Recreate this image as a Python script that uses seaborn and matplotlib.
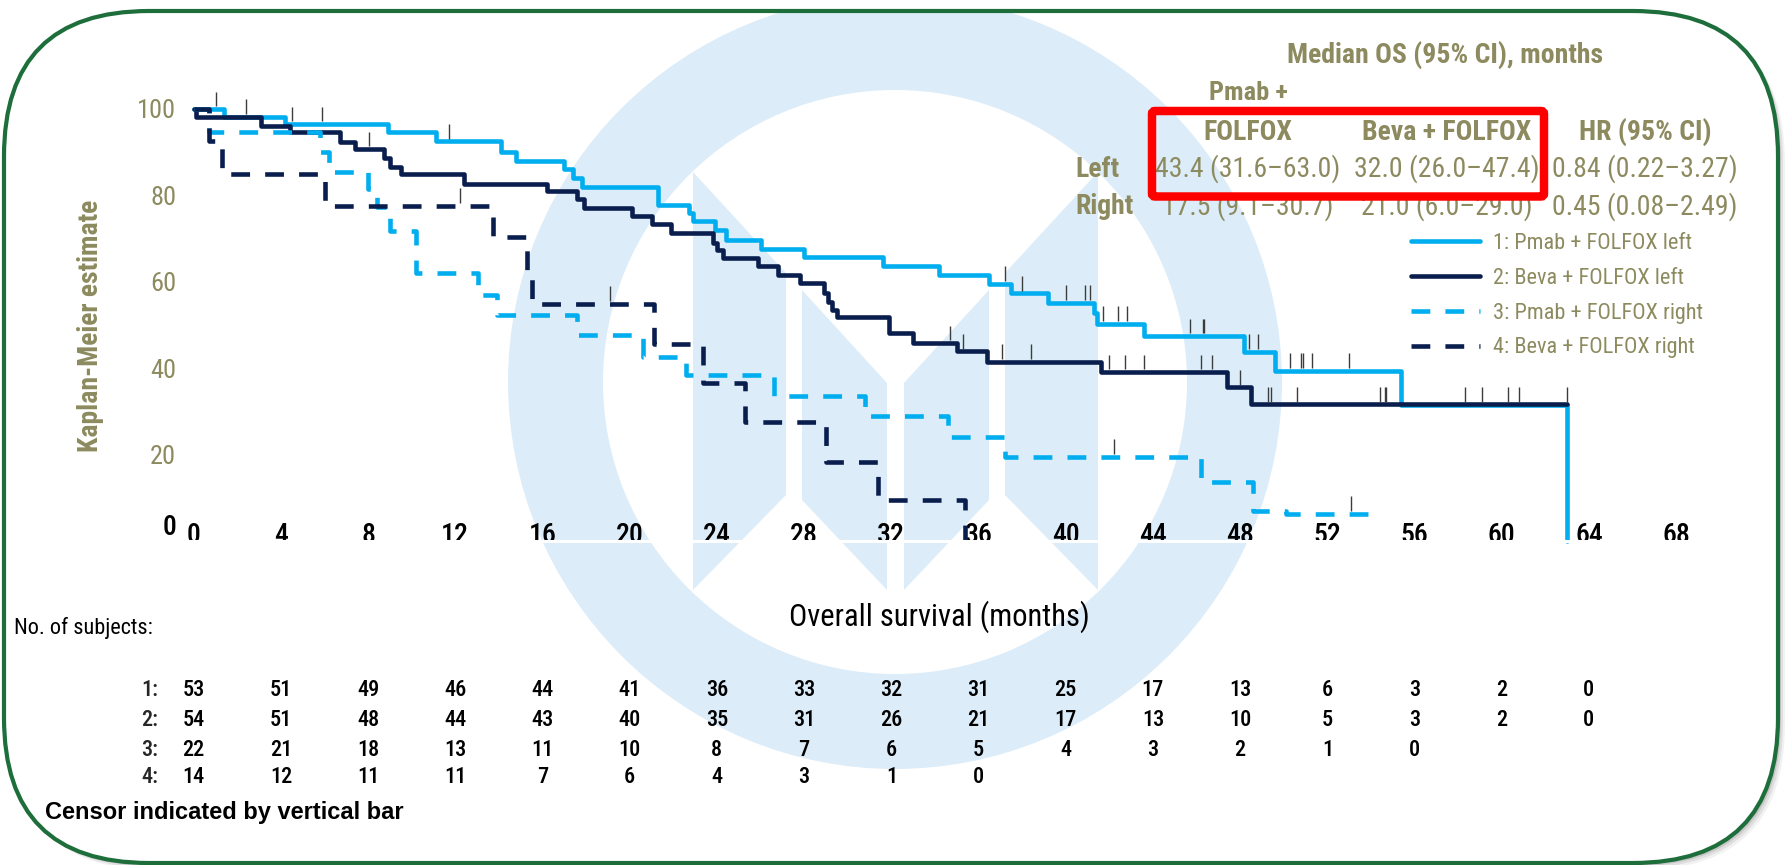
import numpy as np
import pandas as pd
import matplotlib
matplotlib.use("Agg")
import matplotlib.pyplot as plt
import seaborn as sns
from matplotlib import font_manager
from matplotlib.patches import FancyBboxPatch, Circle, Polygon
from matplotlib.transforms import IdentityTransform, blended_transform_factory

# =========================================
# DADOS
# =========================================

# 1: Pmab + FOLFOX left
pf_left_t = [0, 1.4, 4.2, 8.9, 11.1, 14.1, 14.8, 17.0, 17.4, 17.8, 21.3, 22.7, 22.9,
             23.9, 24.4, 26.0, 28.0, 31.6, 34.2, 36.5, 37.5, 39.2, 41.3, 41.45, 43.6,
             48.2, 49.6, 55.4, 63.0]
pf_left_s = [100, 98.2, 96.5, 94.6, 92.5, 90.1, 88.0, 86.1, 84.0, 81.9, 77.8, 75.8, 74.0,
             71.9, 69.6, 67.5, 65.6, 63.5, 61.5, 59.5, 57.3, 55.1, 52.7, 50.3, 47.4,
             43.8, 39.4, 31.4, 0]
pf_left_c = [1.0, 2.4, 4.5, 5.9, 11.7, 37.2, 38.0, 40.0, 40.9, 41.1, 41.7, 42.4, 42.8,
             45.7, 46.3, 46.35, 48.4, 48.8, 50.3, 50.8, 50.9, 51.3, 53.0]

# 2: Beva + FOLFOX left
bf_left_t = [0, 0.1, 3.1, 4.4, 6.7, 7.4, 8.75, 9.0, 9.5, 12.4, 16.2, 17.6, 17.9, 20.1,
             21.0, 21.9, 23.8, 24.0, 24.3, 25.9, 26.8, 27.8, 28.9, 29.1, 29.3, 29.5,
             31.9, 33.0, 35.0, 36.4, 41.6, 47.4, 48.5, 63.0]
bf_left_s = [100, 98.2, 96.0, 94.6, 92.4, 90.7, 88.6, 86.5, 84.8, 82.7, 81.0, 79.1, 77.1,
             75.2, 73.4, 71.2, 69.0, 67.3, 65.4, 63.5, 61.6, 59.6, 57.4, 55.3, 53.5, 51.7,
             48.0, 45.8, 43.9, 41.5, 39.1, 35.5, 31.6, 31.6]
bf_left_c = [8.05, 34.7, 35.3, 37.1, 38.4, 42.0, 42.7, 43.6, 46.2, 46.7, 48.0, 49.3, 49.4,
             50.6, 54.4, 54.65, 54.7, 58.3, 59.1, 60.3, 60.8, 63.0]

# 3: Pmab + FOLFOX right
pf_right_t = [0, 0.7, 5.8, 6.2, 8.0, 8.4, 9.0, 10.2, 13.05, 13.9, 17.6, 20.6, 22.6, 26.6,
              30.8, 34.6, 37.2, 46.2, 48.6, 50.1, 53.9]
pf_right_s = [100, 94.6, 89.9, 85.4, 81.5, 77.3, 71.6, 62.0, 57.0, 52.3, 47.6, 42.6, 38.4,
              33.6, 28.8, 24.1, 19.5, 13.5, 6.8, 6.3, 6.3]
pf_right_c = [42.2, 53.1]

# 4: Beva + FOLFOX right
bf_right_t = [0, 0.7, 1.3, 6.0, 13.75, 15.3, 15.5, 21.1, 23.35, 25.3, 29.0, 31.4, 35.4]
bf_right_s = [100, 92.5, 84.8, 77.6, 70.3, 62.6, 54.9, 45.6, 36.5, 27.6, 18.3, 9.4, 0]
bf_right_c = [12.2, 19.1]

x_ticks = [0, 4, 8, 12, 16, 20, 24, 28, 32, 36, 40, 44, 48, 52, 56, 60, 64, 68]
y_ticks = [0, 20, 40, 60, 80, 100]

# numero de sujeitos em risco
risco_1 = [53, 51, 49, 46, 44, 41, 36, 33, 32, 31, 25, 17, 13, 6, 3, 2, 0]
risco_2 = [54, 51, 48, 44, 43, 40, 35, 31, 26, 21, 17, 13, 10, 5, 3, 2, 0]
risco_3 = [22, 21, 18, 13, 11, 10, 8, 7, 6, 5, 4, 3, 2, 1, 0]
risco_4 = [14, 12, 11, 11, 7, 6, 4, 3, 1, 0]

legendas = ["1: Pmab + FOLFOX left", "2: Beva + FOLFOX left",
            "3: Pmab + FOLFOX right", "4: Beva + FOLFOX right"]

# tabela de mediana
col_header = ["FOLFOX", "Beva + FOLFOX", "HR (95% CI)"]
linha_left = ["43.4 (31.6\u201363.0)", "32.0 (26.0\u201347.4)", "0.84 (0.22\u20133.27)"]
linha_right = ["17.5 (9.1\u201330.7)", "21.0 (6.0\u201329.0)", "0.45 (0.08\u20132.49)"]

# =========================================
# ESTILO
# =========================================

sns.set_style("white")

nomes = {f.name for f in font_manager.fontManager.ttflist}
NARROW = "DejaVu Sans"
for cand in ["Liberation Sans Narrow", "Roboto Condensed", "Roboto"]:
    if cand in nomes:
        NARROW = cand
        break
WIDE = "Liberation Sans" if "Liberation Sans" in nomes else "DejaVu Sans"
plt.rcParams["font.family"] = [NARROW, "DejaVu Sans"]

AZUL = "#00AEEF"
NAVY = "#0A1E4E"
OLIVA = "#8C8A5E"
MARCA = "#DCEDF9"
VERDE = "#1E6E3C"

W, H = 1787, 865
fig = plt.figure(figsize=(W / 100, H / 100), dpi=100)
fig.patch.set_facecolor("white")


def fx(x):
    return x / W


def fy(y):
    return 1 - y / H


# =========================================
# MOLDURA + MARCA D'AGUA
# =========================================

for k, a in [(7, 0.10), (5, 0.16), (3, 0.25)]:
    sombra = FancyBboxPatch((4 + k, 2 - k), 1774, 852,
                            boxstyle="round,pad=0,rounding_size=145",
                            transform=IdentityTransform(), facecolor="#808080",
                            edgecolor="none", alpha=a, zorder=-20)
    fig.patches.append(sombra)

moldura = FancyBboxPatch((4, 2), 1774, 852, boxstyle="round,pad=0,rounding_size=145",
                         transform=IdentityTransform(), facecolor="white",
                         edgecolor="none", zorder=-15)
fig.patches.append(moldura)

cx, cy = 895, H - 382
marca = [Circle((cx, cy), 387, facecolor=MARCA, edgecolor="none"),
         Circle((cx, cy), 292, facecolor="white", edgecolor="none")]
pecas = [
    [(693, 172), (786, 273), (786, 495), (693, 590)],
    [(802, 290), (887, 383), (887, 590), (802, 500)],
    [(904, 383), (989, 290), (989, 500), (904, 590)],
    [(1005, 273), (1098, 172), (1098, 590), (1005, 495)],
]
for p in pecas:
    marca.append(Polygon([(x, H - y) for x, y in p], closed=True,
                         facecolor=MARCA, edgecolor="none"))
for i, m in enumerate(marca):
    m.set_transform(IdentityTransform())
    m.set_zorder(-14 + i * 0.01)
    m.set_clip_path(moldura)
    fig.patches.append(m)

borda = FancyBboxPatch((4, 2), 1774, 852, boxstyle="round,pad=0,rounding_size=145",
                       transform=IdentityTransform(), facecolor="none",
                       edgecolor=VERDE, linewidth=3.0, zorder=5)
fig.patches.append(borda)

# =========================================
# CURVAS KAPLAN-MEIER
# =========================================

ax = fig.add_axes([0.09620, 0.36728, 0.85395, 0.53191])
ax.set_facecolor("none")

tracejado = (0, (4.1, 3.3))
curvas = [
    (pf_left_t, pf_left_s, pf_left_c, AZUL, "-"),
    (bf_left_t, bf_left_s, bf_left_c, NAVY, "-"),
    (pf_right_t, pf_right_s, pf_right_c, AZUL, tracejado),
    (bf_right_t, bf_right_s, bf_right_c, NAVY, tracejado),
]

for (t, s, c, cor, estilo), nome in zip(curvas, legendas):
    df = pd.DataFrame({"mes": t, "sobrevida": s})
    sns.lineplot(data=df, x="mes", y="sobrevida", ax=ax, estimator=None, sort=False,
                 color=cor, linestyle=estilo, linewidth=3.3, drawstyle="steps-post",
                 label=nome, clip_on=False)
    # censuras
    idx = np.searchsorted(t, c, side="right") - 1
    nivel = np.array(s)[idx]
    ax.vlines(c, nivel + 0.6, nivel + 4.0, color="#3c3c3c", linewidth=1.0, zorder=3)

ax.set_xlim(-1, 69)
ax.set_ylim(-1.5, 105)
ax.set_xlabel("")
ax.set_ylabel("")

for lado in ["top", "right", "left"]:
    ax.spines[lado].set_visible(False)
ax.spines["bottom"].set_position(("data", 0))
ax.spines["bottom"].set_color("white")
ax.spines["bottom"].set_linewidth(2.2)

ax.set_xticks(x_ticks)
ax.set_xticklabels([str(v) for v in x_ticks], fontweight="medium")
ax.tick_params(axis="x", direction="out", length=9.4, width=1.6, color="white",
               pad=-22.9, labelsize=20, labelcolor="black")

ax.set_yticks(y_ticks)
ax.set_yticklabels([str(v) for v in y_ticks])
ax.tick_params(axis="y", length=0, pad=-3, labelsize=19, labelcolor=OLIVA)
zero = ax.get_yticklabels()[0]
zero.set_color("black")
zero.set_fontsize(20)
zero.set_fontweight("medium")
zero.set_va("bottom")

# legenda
ax.legend(loc="upper left", bbox_to_anchor=(fx(1411), fy(233)), bbox_transform=fig.transFigure,
          frameon=False, fontsize=16, handlelength=3.1, handletextpad=0.6,
          labelspacing=0.62, borderpad=0, borderaxespad=0, labelcolor=OLIVA)

# =========================================
# TEXTOS
# =========================================

fig.text(fx(91), fy(326), "Kaplan-Meier estimate", rotation=90, ha="center", va="center",
         fontsize=20, color=OLIVA, fontweight="bold")
fig.text(fx(939), fy(626), "Overall survival (months)", ha="center", va="baseline",
         fontsize=22, color="black")
fig.text(fx(14), fy(634), "No. of subjects:", ha="left", va="baseline", fontsize=16,
         color="black")
fig.text(fx(45), fy(819), "Censor indicated by vertical bar", ha="left", va="baseline",
         fontsize=17, fontweight="bold", color="black", family=[WIDE, "DejaVu Sans"])

trans = blended_transform_factory(ax.transData, fig.transFigure)
linhas_y = [696, 726, 756, 783]
for i, (rot, row) in enumerate(zip(["1:", "2:", "3:", "4:"],
                                    [risco_1, risco_2, risco_3, risco_4])):
    fig.text(fx(158), fy(linhas_y[i]), rot, ha="right", va="baseline", fontsize=16,
             fontweight="medium")
    for xt, n in zip(x_ticks, row):
        ax.text(xt, fy(linhas_y[i]), str(n), transform=trans, ha="center", va="baseline",
                fontsize=16, color="black", fontweight="medium")

# tabela de mediana
fig.text(fx(1445), fy(63), "Median OS (95% CI), months", ha="center", va="baseline",
         fontsize=20, color=OLIVA, fontweight="bold")
fig.text(fx(1248), fy(100), "Pmab +", ha="center", va="baseline", fontsize=19, color=OLIVA,
         fontweight="bold")
col_x = [1248, 1447, 1645]
for xc, txt in zip(col_x, col_header):
    fig.text(fx(xc), fy(139.5), txt, ha="center", va="baseline", fontsize=20, color=OLIVA,
             fontweight="bold")
fig.text(fx(1075), fy(177), "Left", ha="left", va="baseline", fontsize=20, color=OLIVA,
         fontweight="bold")
fig.text(fx(1075), fy(214.5), "Right", ha="left", va="baseline", fontsize=20, color=OLIVA,
         fontweight="bold")
for xc, a, b in zip(col_x, linha_left, linha_right):
    fig.text(fx(xc), fy(177), a, ha="center", va="baseline", fontsize=20, color=OLIVA)
    fig.text(fx(xc), fy(214.5), b, ha="center", va="baseline", fontsize=20, color=OLIVA)

caixa = FancyBboxPatch((1152, H - 196.5), 392, 85.5, boxstyle="round,pad=0,rounding_size=3",
                       transform=IdentityTransform(), facecolor="none", edgecolor="#FF0000",
                       linewidth=6.1, zorder=10)
fig.patches.append(caixa)

fig.savefig("out.png", dpi=100, facecolor=fig.get_facecolor())
